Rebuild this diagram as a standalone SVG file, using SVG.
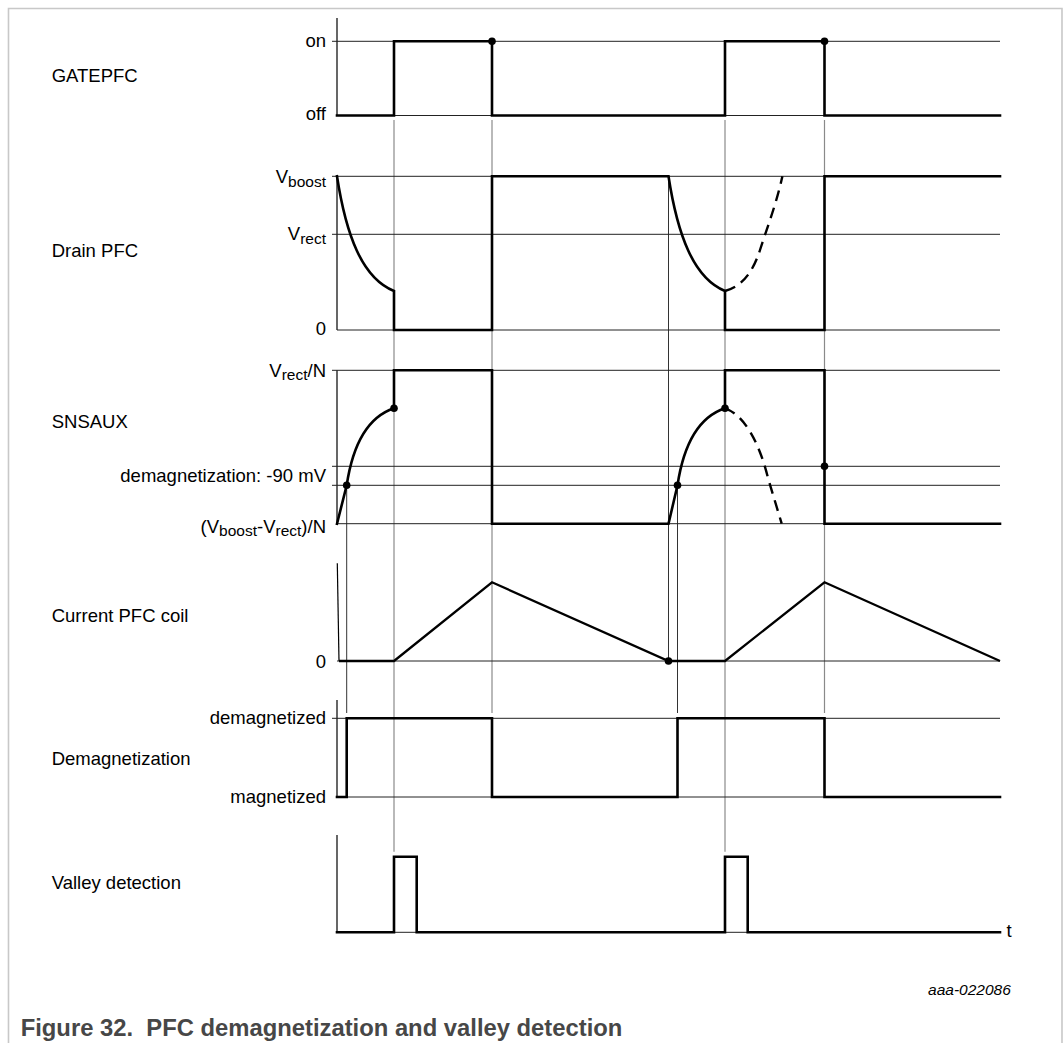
<svg xmlns="http://www.w3.org/2000/svg" width="1064" height="1043" viewBox="0 0 1064 1043">
<style>
  text { font-family: "Liberation Sans", Arial, sans-serif; font-size: 18.5px; fill: #000; }
  .end { text-anchor: end; }
  .sub { font-size: 15.5px; }
  .axis { stroke: #000; stroke-width: 1.2; fill: none; }
  .ref { stroke: #222; stroke-width: 1; fill: none; }
  .sig { stroke: #000; stroke-width: 2.6; fill: none; stroke-linejoin: miter; stroke-linecap: square; }
  .sig2 { stroke: #000; stroke-width: 2.3; fill: none; stroke-linejoin: miter; }
  .dash { stroke: #000; stroke-width: 2.4; fill: none; stroke-dasharray: 11 7; }
  .guide { stroke: #8a8a8a; stroke-width: 1.2; fill: none; }
  .guide2 { stroke: #333; stroke-width: 1; fill: none; }
  .dot { fill: #000; }
  .cap { font-size: 23.8px; font-weight: bold; fill: #474747; }
  .id { font-size: 15.5px; font-style: italic; }
</style>
<rect width="1064" height="1043" fill="#fff"/>
<path d="M8.5,1043 V8.5 H1062 V1043" fill="none" stroke="#c8c8c8" stroke-width="1.6"/>

<g id="connectors">
  <line class="guide2" x1="346.7" y1="485.3" x2="346.7" y2="713"/>
  <line class="guide" x1="394" y1="120" x2="394" y2="851.7"/>
  <line class="guide" x1="492" y1="120" x2="492" y2="713"/>
  <line class="guide2" x1="668.5" y1="176.3" x2="668.5" y2="661"/>
  <line class="guide2" x1="677.5" y1="485.3" x2="677.5" y2="713"/>
  <line class="guide" x1="725" y1="120" x2="725" y2="851.7"/>
  <line class="guide" x1="824.5" y1="120" x2="824.5" y2="713"/>
</g>

<g id="gatepfc">
  <text x="51.7" y="81.7">GATEPFC</text>
  <text class="end" x="326" y="47">on</text>
  <text class="end" x="326" y="120">off</text>
  <line class="axis" x1="337" y1="18" x2="337" y2="115.5"/>
  <line class="ref" x1="332" y1="41.3" x2="1000" y2="41.3"/>
  <line class="ref" x1="337" y1="115.5" x2="1000" y2="115.5"/>
  <path class="sig" d="M337,115.5 H394 V41.3 H492 V115.5 H725 V41.3 H824.5 V115.5 H1000"/>
  <circle class="dot" cx="492" cy="41.3" r="3.8"/>
  <circle class="dot" cx="824.5" cy="41.3" r="3.8"/>
</g>

<g id="drainpfc">
  <text x="51.7" y="256.7">Drain PFC</text>
  <text class="end" x="326" y="182.7">V<tspan class="sub" dy="4">boost</tspan></text>
  <text class="end" x="326" y="240">V<tspan class="sub" dy="3.5">rect</tspan></text>
  <text class="end" x="326" y="335">0</text>
  <line class="axis" x1="337" y1="176.3" x2="337" y2="330"/>
  <line class="ref" x1="332" y1="176.3" x2="1000" y2="176.3"/>
  <line class="ref" x1="332" y1="234.3" x2="1000" y2="234.3"/>
  <line class="ref" x1="337" y1="330" x2="1000" y2="330"/>
  <path class="sig" d="M337,176.3 C346,235 362,278 394,291 V330 H492 V176.3 H668.5 C677.5,235 693.5,278 725,291 V330 H824.5 V176.3 H1000"/>
  <path class="dash" d="M725,291 C740,287 752,275 760,250 C767,228 776,205 782.4,176.3"/>
</g>

<g id="snsaux">
  <text x="51.7" y="428.3">SNSAUX</text>
  <text class="end" x="326" y="376.7">V<tspan class="sub" dy="3.5">rect</tspan><tspan dy="-3.5">/N</tspan></text>
  <text class="end" x="326" y="481.7">demagnetization: -90 mV</text>
  <text class="end" x="326" y="532.5">(V<tspan class="sub" dy="3.5">boost</tspan><tspan dy="-3.5">-V</tspan><tspan class="sub" dy="3.5">rect</tspan><tspan dy="-3.5">)/N</tspan></text>
  <line class="axis" x1="337" y1="370.3" x2="337" y2="523.7"/>
  <line class="ref" x1="332" y1="370.3" x2="1000" y2="370.3"/>
  <line class="ref" x1="332" y1="466.3" x2="1000" y2="466.3"/>
  <line class="ref" x1="332" y1="485.3" x2="1000" y2="485.3"/>
  <line class="ref" x1="337" y1="523.7" x2="1000" y2="523.7"/>
  <path class="sig" d="M337,523.7 L346.7,485.3 C352,450 365,418 394,408.3 V370.3 H492 V523.7 H668.5 L677.5,485.3 C682.8,450 695.8,418 725,408.3 V370.3 H824.5 V523.7 H1000"/>
  <path class="dash" d="M725,408.3 C745,415 760,445 768,478 L781.7,523.7"/>
  <circle class="dot" cx="346.7" cy="485.3" r="3.8"/>
  <circle class="dot" cx="394" cy="408.3" r="3.8"/>
  <circle class="dot" cx="677.5" cy="485.3" r="3.8"/>
  <circle class="dot" cx="725" cy="408.3" r="3.8"/>
  <circle class="dot" cx="824.5" cy="466.3" r="3.8"/>
</g>

<g id="current">
  <text x="51.7" y="622.3">Current PFC coil</text>
  <text class="end" x="326" y="668">0</text>
  <line class="axis" x1="337.3" y1="563.3" x2="339" y2="661"/>
  <line class="ref" x1="337" y1="661" x2="1000" y2="661"/>
  <path class="sig2" d="M339,661 H394 L492,582.3 L668.5,661 H725 L824.5,582.3 L1000,661"/>
  <circle class="dot" cx="668.5" cy="661" r="3.8"/>
</g>

<g id="demagnetization">
  <text x="51.7" y="765">Demagnetization</text>
  <text class="end" x="326" y="724.3">demagnetized</text>
  <text class="end" x="326" y="802.5">magnetized</text>
  <line class="axis" x1="337" y1="700" x2="337" y2="797"/>
  <line class="ref" x1="332" y1="718.3" x2="1000" y2="718.3"/>
  <line class="ref" x1="337" y1="797" x2="1000" y2="797"/>
  <path class="sig" d="M337,797 H346.7 V718.3 H492 V797 H677.5 V718.3 H824.5 V797 H1000"/>
</g>

<g id="valley">
  <text x="51.7" y="889">Valley detection</text>
  <line class="axis" x1="337" y1="835" x2="337" y2="932.3"/>
  <line class="ref" x1="394" y1="932.3" x2="416.7" y2="932.3"/>
  <line class="ref" x1="725" y1="932.3" x2="747.7" y2="932.3"/>
  <path class="sig" d="M337,932.3 H394 V856.7 H416.7 V932.3 H725 V856.7 H747.7 V932.3 H1000"/>
  <text x="1006.6" y="937.3">t</text>
</g>

<text class="id end" x="1010.8" y="995">aaa-022086</text>
<text class="cap" x="20.7" y="1036" xml:space="preserve">Figure 32.  PFC demagnetization and valley detection</text>
</svg>
